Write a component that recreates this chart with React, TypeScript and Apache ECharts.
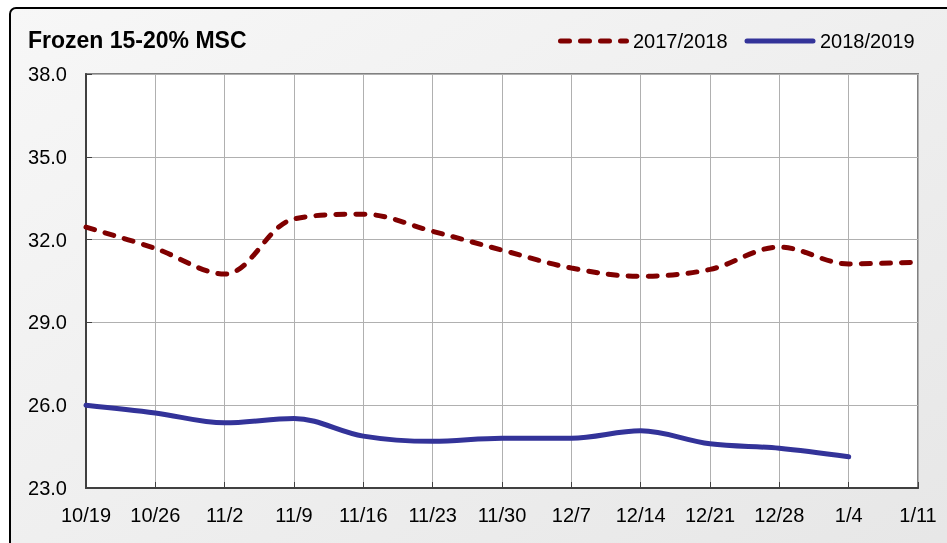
import React, { useEffect, useRef } from "react";
import * as echarts from "echarts";

const categories = ["10/19", "10/26", "11/2", "11/9", "11/16", "11/23", "11/30", "12/7", "12/14", "12/21", "12/28", "1/4", "1/11"];
const season2017 = [32.45, 31.68, 30.75, 32.75, 32.92, 32.3, 31.62, 30.97, 30.67, 30.92, 31.73, 31.12, 31.18];
const season2018 = [26.0, 25.72, 25.36, 25.52, 24.88, 24.69, 24.8, 24.8, 25.07, 24.6, 24.44, 24.13, null];
const seriesNames = ["2017/2018", "2018/2019"];
const yTicks = { min: 23, max: 38, interval: 3 };

const RED = "#800000";
const BLUE = "#333399";

export default function App() {
  const ref = useRef<HTMLDivElement>(null);
  useEffect(() => {
    if (!ref.current) return;
    const chart = echarts.init(ref.current, undefined, { renderer: "svg" });
    const font = "'Liberation Sans', Arial, sans-serif";
    chart.setOption({
      animation: false,
      textStyle: { fontFamily: font },
      graphic: [
        {
          type: "rect",
          z: -10,
          silent: true,
          shape: { x: 10, y: 8, width: 960, height: 580, r: 6 },
          style: {
            fill: new echarts.graphic.LinearGradient(0, 0, 1, 1, [
              { offset: 0, color: "#f7f7f7" },
              { offset: 1, color: "#e6e6e6" },
            ]),
            stroke: "#000",
            lineWidth: 2,
          },
        },
        {
          type: "rect",
          z: -5,
          silent: true,
          shape: { x: 86, y: 74, width: 832, height: 414 },
          style: { fill: "#fff", stroke: "#808080", lineWidth: 2 },
        },
        {
          type: "line",
          silent: true,
          shape: { x1: 560.5, y1: 41, x2: 626.5, y2: 41 },
          style: { stroke: RED, lineWidth: 5, lineDash: [9, 11], lineCap: "round" },
        },
        {
          type: "text",
          silent: true,
          x: 633,
          y: 41,
          style: {
            text: seriesNames[0],
            font: `20px ${font}`,
            fill: "#000",
            textVerticalAlign: "middle",
            verticalAlign: "middle",
          },
        },
        {
          type: "line",
          silent: true,
          shape: { x1: 747, y1: 41, x2: 813, y2: 41 },
          style: { stroke: BLUE, lineWidth: 5, lineCap: "round" },
        },
        {
          type: "text",
          silent: true,
          x: 820,
          y: 41,
          style: {
            text: seriesNames[1],
            font: `20px ${font}`,
            fill: "#000",
            textVerticalAlign: "middle",
            verticalAlign: "middle",
          },
        },
      ],
      title: {
        text: "Frozen 15-20% MSC",
        left: 23,
        top: 23,
        textStyle: { fontSize: 23, fontWeight: "bold", color: "#000", fontFamily: font },
      },
      grid: { left: 86, right: 29, top: 74, bottom: 55, containLabel: false },
      xAxis: {
        type: "category",
        data: categories,
        boundaryGap: false,
        axisLine: { lineStyle: { color: "#404040", width: 2 } },
        axisTick: { inside: true, length: 6, lineStyle: { color: "#404040" } },
        axisLabel: { fontSize: 20, color: "#000", margin: 17, fontFamily: font },
        splitLine: { show: true, lineStyle: { color: "#b0b0b0", width: 1 } },
      },
      yAxis: {
        type: "value",
        min: yTicks.min,
        max: yTicks.max,
        interval: yTicks.interval,
        axisLine: { show: true, lineStyle: { color: "#404040", width: 2 } },
        axisTick: { show: true, inside: true, length: 6, lineStyle: { color: "#404040" } },
        axisLabel: {
          fontSize: 20,
          color: "#000",
          margin: 19,
          fontFamily: font,
          formatter: (v: number) => v.toFixed(1),
        },
        splitLine: { show: true, lineStyle: { color: "#b0b0b0", width: 1 } },
      },
      series: [
        {
          name: seriesNames[0],
          type: "line",
          data: season2017,
          smooth: 0.35,
          symbol: "none",
          lineStyle: { color: RED, width: 5, type: [9, 11], cap: "round" },
          itemStyle: { color: RED },
        },
        {
          name: seriesNames[1],
          type: "line",
          data: season2018,
          smooth: 0.35,
          symbol: "none",
          lineStyle: { color: BLUE, width: 5, cap: "round" },
          itemStyle: { color: BLUE },
        },
      ],
    });
    return () => chart.dispose();
  }, []);
  return (
    <div
      ref={ref}
      style={{ position: "fixed", left: 0, top: 0, width: 947, height: 543 }}
    />
  );
}
